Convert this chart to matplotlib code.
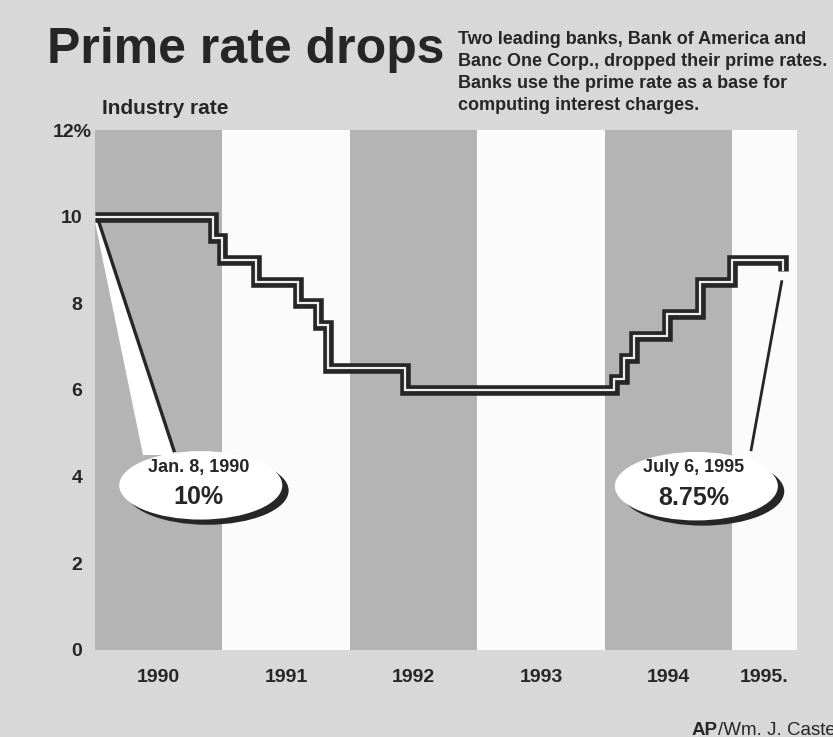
import numpy as np
import matplotlib
matplotlib.use('Agg')
from matplotlib import pyplot as plt
from matplotlib.patches import Ellipse, Polygon

# Prime rate steps (fraction of year, percent)
dates = [1990.0, 1990.93, 1991.0, 1991.26, 1991.59, 1991.75, 1991.83, 1992.43,
         1994.07, 1994.15, 1994.23, 1994.49, 1994.75, 1995.0, 1995.40]
rates = [10, 9.5, 9, 8.5, 8, 7.5, 6.5, 6,
         6.25, 6.75, 7.25, 7.75, 8.5, 9, 8.75]

# Axis labels
year_labels = ['1990', '1991', '1992', '1993', '1994', '1995.']
year_pos = [1990.5, 1991.5, 1992.5, 1993.5, 1994.5, 1995.25]
ytick_vals = [0, 2, 4, 6, 8, 10]

title = 'Prime rate drops'
subtitle = ['Two leading banks, Bank of America and',
            'Banc One Corp., dropped their prime rates.',
            'Banks use the prime rate as a base for',
            'computing interest charges.']

BG = '#d8d8d8'
GRAY = '#b4b4b4'
WHITE = '#fbfbfb'
INK = '#262626'
SANS = ['Liberation Sans', 'DejaVu Sans']

W, H = 833, 737


def fx(px):
    return px / W


def fy(py):
    return 1 - py / H


fig = plt.figure(figsize=(W / 100, H / 100), dpi=100, facecolor=BG)
ax = fig.add_axes([fx(95), fy(650), fx(797) - fx(95), fy(130) - fy(650)])
ax.set_xlim(1990, 1995.51)
ax.set_ylim(0, 12)
ax.set_facecolor(BG)
for s in ax.spines.values():
    s.set_visible(False)

# Alternating year bands
for i, y0 in enumerate(range(1990, 1996)):
    ax.axvspan(y0, min(y0 + 1, 1995.51), color=GRAY if i % 2 == 0 else WHITE,
               lw=0, zorder=0)

# Pointer for Jan. 8, 1990
wedge = Polygon([(1990.0, 9.88), (1990.03, 9.88), (1990.636, 4.5), (1990.377, 4.5)],
                closed=True, fc='white', ec='none', zorder=3)
ax.add_patch(wedge)
ax.plot([1990.03, 1990.62], [9.88, 4.6], color=INK, lw=2.4, zorder=3.5)

# Pointer for July 6, 1995
ax.plot([1995.39, 1995.15], [8.5, 4.62], color=INK, lw=2, zorder=3.5)

# Double step line
ax.step(dates, rates, where='post', color=INK, lw=7.6,
        solid_joinstyle='miter', solid_capstyle='butt', zorder=5)
ax.step(dates, rates, where='post', color='#ededed', lw=1.6,
        solid_joinstyle='miter', solid_capstyle='butt', zorder=6)


# Callout ovals with shadow
def callout(cx, cy, top, bottom):
    ax.add_patch(Ellipse((cx + 0.05, cy - 0.12), 1.28, 1.58, fc=INK, ec='none', zorder=7))
    ax.add_patch(Ellipse((cx, cy), 1.28, 1.58, fc='white', ec='none', zorder=8))
    ax.text(cx - 0.02, cy + 0.42, top, ha='center', va='center', fontsize=13,
            weight='bold', family=SANS, color=INK, zorder=9)
    ax.text(cx - 0.02, cy - 0.28, bottom, ha='center', va='center', fontsize=18,
            weight='bold', family=SANS, color=INK, zorder=9)


callout(1990.83, 3.8, 'Jan. 8, 1990', '10%')
callout(1994.72, 3.78, 'July 6, 1995', '8.75%')

# Ticks
ax.set_yticks(ytick_vals)
ax.set_yticklabels([str(v) for v in ytick_vals])
ax.set_xticks(year_pos)
ax.set_xticklabels(year_labels)
ax.tick_params(length=0, colors=INK, labelsize=14)
ax.tick_params(axis='y', pad=9)
ax.tick_params(axis='x', pad=14)
for lab in ax.get_xticklabels() + ax.get_yticklabels():
    lab.set_fontweight('bold')
    lab.set_family(SANS)

# Titles and notes
fig.text(fx(47), fy(63), title, fontsize=36, weight='bold', family=SANS,
         color=INK, va='baseline')
for i, line in enumerate(subtitle):
    fig.text(fx(458), fy(44 + 22 * i), line, fontsize=13, weight='bold',
             family=SANS, color=INK, va='baseline')
fig.text(fx(102), fy(114), 'Industry rate', fontsize=15, weight='bold',
         family=SANS, color=INK, va='baseline')
fig.text(fx(53), fy(137), '12%', fontsize=14, weight='bold', family=SANS,
         color=INK, va='baseline')

# Credit line, cut at the right edge as in the print
t1 = fig.text(fx(692), fy(735), 'AP', fontsize=13.5, weight='bold', family=SANS,
              color=INK, va='baseline')
ax.annotate('/Wm. J. Castello', xy=(1, 0), xycoords=t1, va='bottom', ha='left',
            fontsize=13.5, family=SANS, color=INK, annotation_clip=False)

plt.savefig('out.png', dpi=100, facecolor=BG)
